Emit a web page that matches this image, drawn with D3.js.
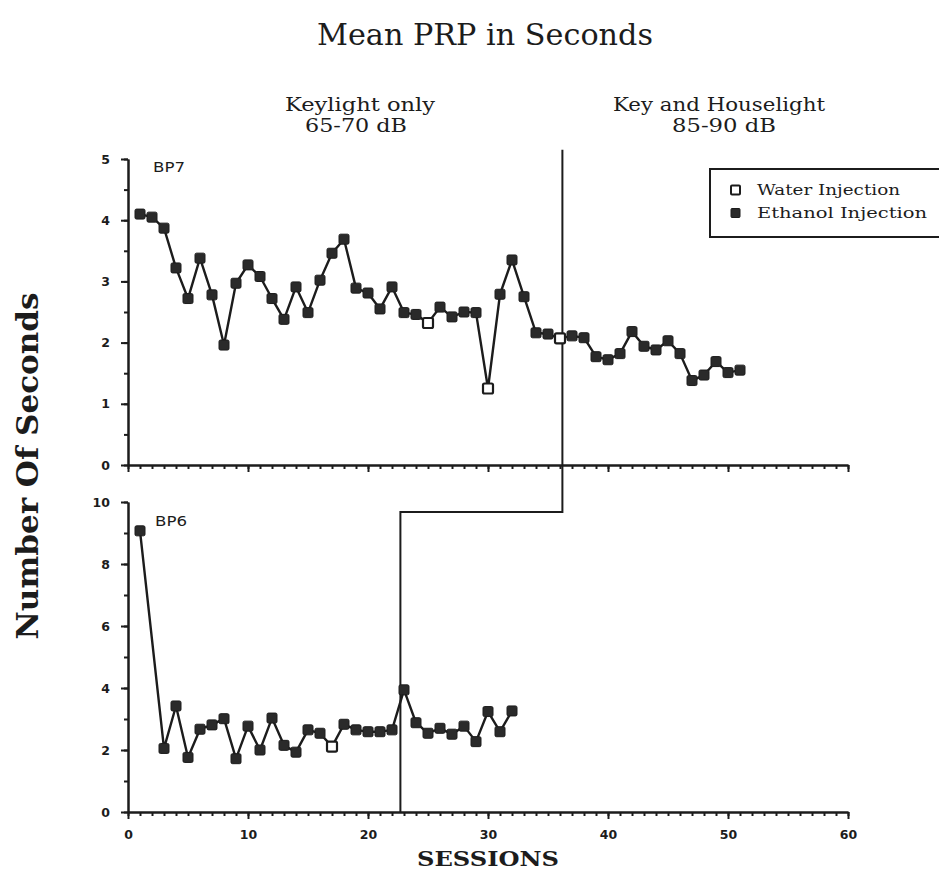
<!DOCTYPE html>
<html>
<head>
<meta charset="utf-8">
<script src="https://cdn.jsdelivr.net/npm/d3@7/dist/d3.min.js"></script>
<style>
  body { margin: 0; background: #fff; }
  svg text { fill: #1c1c1c; }
</style>
</head>
<body>
<svg id="chart" width="939" height="873"></svg>
<script>
// BP7 (top panel)
const bp7Sessions = [1, 2, 3, 4, 5, 6, 7, 8, 9, 10, 11, 12, 13, 14, 15, 16, 17, 18, 19, 20,
  21, 22, 23, 24, 25, 26, 27, 28, 29, 30, 31, 32, 33, 34, 35, 36, 37, 38, 39, 40,
  41, 42, 43, 44, 45, 46, 47, 48, 49, 50, 51];
const bp7Values = [4.10, 4.05, 3.87, 3.22, 2.72, 3.38, 2.78, 1.96, 2.97, 3.27,
  3.08, 2.72, 2.38, 2.91, 2.49, 3.02, 3.46, 3.69, 2.89, 2.81,
  2.55, 2.91, 2.49, 2.46, 2.32, 2.58, 2.42, 2.50, 2.49, 1.25,
  2.79, 3.35, 2.75, 2.16, 2.14, 2.07, 2.11, 2.08, 1.77, 1.72,
  1.82, 2.18, 1.94, 1.88, 2.03, 1.82, 1.38, 1.47, 1.69, 1.51, 1.55];
const bp7Water = [25, 30, 36];

// BP6 (bottom panel), session 2 not plotted
const bp6Sessions = [1, 3, 4, 5, 6, 7, 8, 9, 10, 11, 12, 13, 14, 15, 16, 17, 18, 19, 20,
  21, 22, 23, 24, 25, 26, 27, 28, 29, 30, 31, 32];
const bp6Values = [9.07, 2.05, 3.42, 1.76, 2.67, 2.81, 3.01, 1.72, 2.77, 2.00,
  3.03, 2.15, 1.93, 2.65, 2.54, 2.11, 2.83, 2.65, 2.59, 2.59,
  2.65, 3.94, 2.88, 2.54, 2.70, 2.51, 2.77, 2.27, 3.24, 2.59, 3.26];
const bp6Water = [17];

// phase change (session position) and step height in BP6 units
const phaseBP7 = 36.2;
const phaseBP6 = 22.7;
const phaseStep = 9.68;

const xTicks = [0, 10, 20, 30, 40, 50, 60];
const bp7Ticks = [0, 1, 2, 3, 4, 5];
const bp6Ticks = [0, 2, 4, 6, 8, 10];

const ink = '#1c1c1c';
const serif = "'DejaVu Serif', 'Liberation Serif', serif";
const sans = "'DejaVu Sans', 'Liberation Sans', sans-serif";

const svg = d3.select('#chart');

const x = d3.scaleLinear().domain([0, 60]).range([128, 848]);
const yTop = d3.scaleLinear().domain([0, 5]).range([465, 159]);
const yBot = d3.scaleLinear().domain([0, 10]).range([812, 502]);

function styleAxis(g) {
  g.selectAll('.domain, .tick line').attr('stroke', ink).attr('stroke-width', 2);
  g.selectAll('text').attr('font-family', sans).attr('font-weight', 'bold')
    .attr('font-size', 12.5).attr('fill', ink);
}

function drawPanel(y, majors, minorStep, showXLabels) {
  const [lo, hi] = y.domain();
  const minors = d3.range(lo, hi + 0.001, minorStep);
  // minor y ticks
  svg.append('g').attr('transform', `translate(${x(0)},0)`)
    .call(d3.axisLeft(y).tickValues(minors).tickSize(4).tickFormat('').tickSizeOuter(0))
    .call(styleAxis);
  // major y ticks
  svg.append('g').attr('transform', `translate(${x(0)},0)`)
    .call(d3.axisLeft(y).tickValues(majors).tickSize(7).tickPadding(11)
      .tickFormat(d3.format('d')).tickSizeOuter(0))
    .call(styleAxis);
  // x axis minor + major
  svg.append('g').attr('transform', `translate(0,${y(0)})`)
    .call(d3.axisBottom(x).tickValues(d3.range(0, 61, 1)).tickSize(4).tickFormat('').tickSizeOuter(0))
    .call(styleAxis);
  svg.append('g').attr('transform', `translate(0,${y(0)})`)
    .call(d3.axisBottom(x).tickValues(xTicks).tickSize(7).tickPadding(11)
      .tickFormat(showXLabels ? d3.format('d') : '').tickSizeOuter(0))
    .call(styleAxis);
}

function drawSeries(sessions, values, water, y) {
  const data = sessions.map((s, i) => ({ s, v: values[i], water: water.includes(s) }));
  svg.append('path')
    .datum(data)
    .attr('fill', 'none')
    .attr('stroke', ink)
    .attr('stroke-width', 2.4)
    .attr('stroke-linejoin', 'round')
    .attr('d', d3.line().x(d => x(d.s)).y(d => y(d.v)));

  svg.append('g').selectAll('rect').data(data).join('rect')
    .attr('x', d => x(d.s) - 5)
    .attr('y', d => y(d.v) - 5)
    .attr('width', 10)
    .attr('height', 10)
    .attr('rx', 1.5)
    .attr('fill', d => d.water ? '#fff' : '#2a2a2a')
    .attr('stroke', ink)
    .attr('stroke-width', d => d.water ? 2.2 : 1);
}

drawPanel(yTop, bp7Ticks, 0.5, false);
drawPanel(yBot, bp6Ticks, 1, true);

// phase-change line: down through BP7, step left, down through BP6
const phasePts = [
  [x(phaseBP7), yTop(5.15)],
  [x(phaseBP7), yBot(phaseStep)],
  [x(phaseBP6), yBot(phaseStep)],
  [x(phaseBP6), yBot(0)],
];
svg.append('path')
  .attr('d', d3.line()(phasePts))
  .attr('fill', 'none')
  .attr('stroke', ink)
  .attr('stroke-width', 2);

drawSeries(bp7Sessions, bp7Values, bp7Water, yTop);
drawSeries(bp6Sessions, bp6Values, bp6Water, yBot);

// panel labels
svg.append('text').attr('x', 153).attr('y', 172).text('BP7')
  .attr('font-family', sans).attr('font-size', 14).attr('textLength', 32).attr('lengthAdjust', 'spacingAndGlyphs');
svg.append('text').attr('x', 155).attr('y', 526).text('BP6')
  .attr('font-family', sans).attr('font-size', 14).attr('textLength', 32).attr('lengthAdjust', 'spacingAndGlyphs');

// titles
function label(txt, cx, cy, size, len, opts = {}) {
  const t = svg.append('text')
    .attr('x', cx).attr('y', cy)
    .attr('text-anchor', 'middle')
    .attr('font-family', opts.family || serif)
    .attr('font-size', size)
    .attr('font-weight', opts.weight || 'normal')
    .attr('textLength', len)
    .attr('lengthAdjust', 'spacingAndGlyphs')
    .text(txt);
  if (opts.rotate) t.attr('transform', `rotate(-90,${cx},${cy})`);
  return t;
}

label('Mean PRP in Seconds', 485, 45, 30, 336);
label('Keylight only', 360, 111, 18, 150);
label('65-70 dB', 356, 132, 18, 102);
label('Key and Houselight', 719, 111, 18, 212);
label('85-90 dB', 724, 132, 18, 104);
label('Number Of Seconds', 38, 466, 30, 347, { weight: 'bold', rotate: true });
label('SESSIONS', 488, 866, 21, 142, { weight: 'bold' });

// legend
const legend = svg.append('g');
legend.append('rect')
  .attr('x', 710).attr('y', 169).attr('width', 240).attr('height', 68)
  .attr('fill', '#fff').attr('stroke', ink).attr('stroke-width', 2);
const legendItems = [
  { name: 'Water Injection', water: true, len: 143 },
  { name: 'Ethanol Injection', water: false, len: 170 },
];
legendItems.forEach((d, i) => {
  const cy = 190 + i * 23;
  legend.append('rect')
    .attr('x', 731).attr('y', cy - 4.5).attr('width', 9).attr('height', 9).attr('rx', 1)
    .attr('fill', d.water ? '#fff' : '#2a2a2a')
    .attr('stroke', ink).attr('stroke-width', d.water ? 2 : 1);
  legend.append('text')
    .attr('x', 757).attr('y', cy + 5)
    .attr('font-family', serif).attr('font-size', 15)
    .attr('textLength', d.len).attr('lengthAdjust', 'spacingAndGlyphs')
    .text(d.name);
});
</script>
</body>
</html>
